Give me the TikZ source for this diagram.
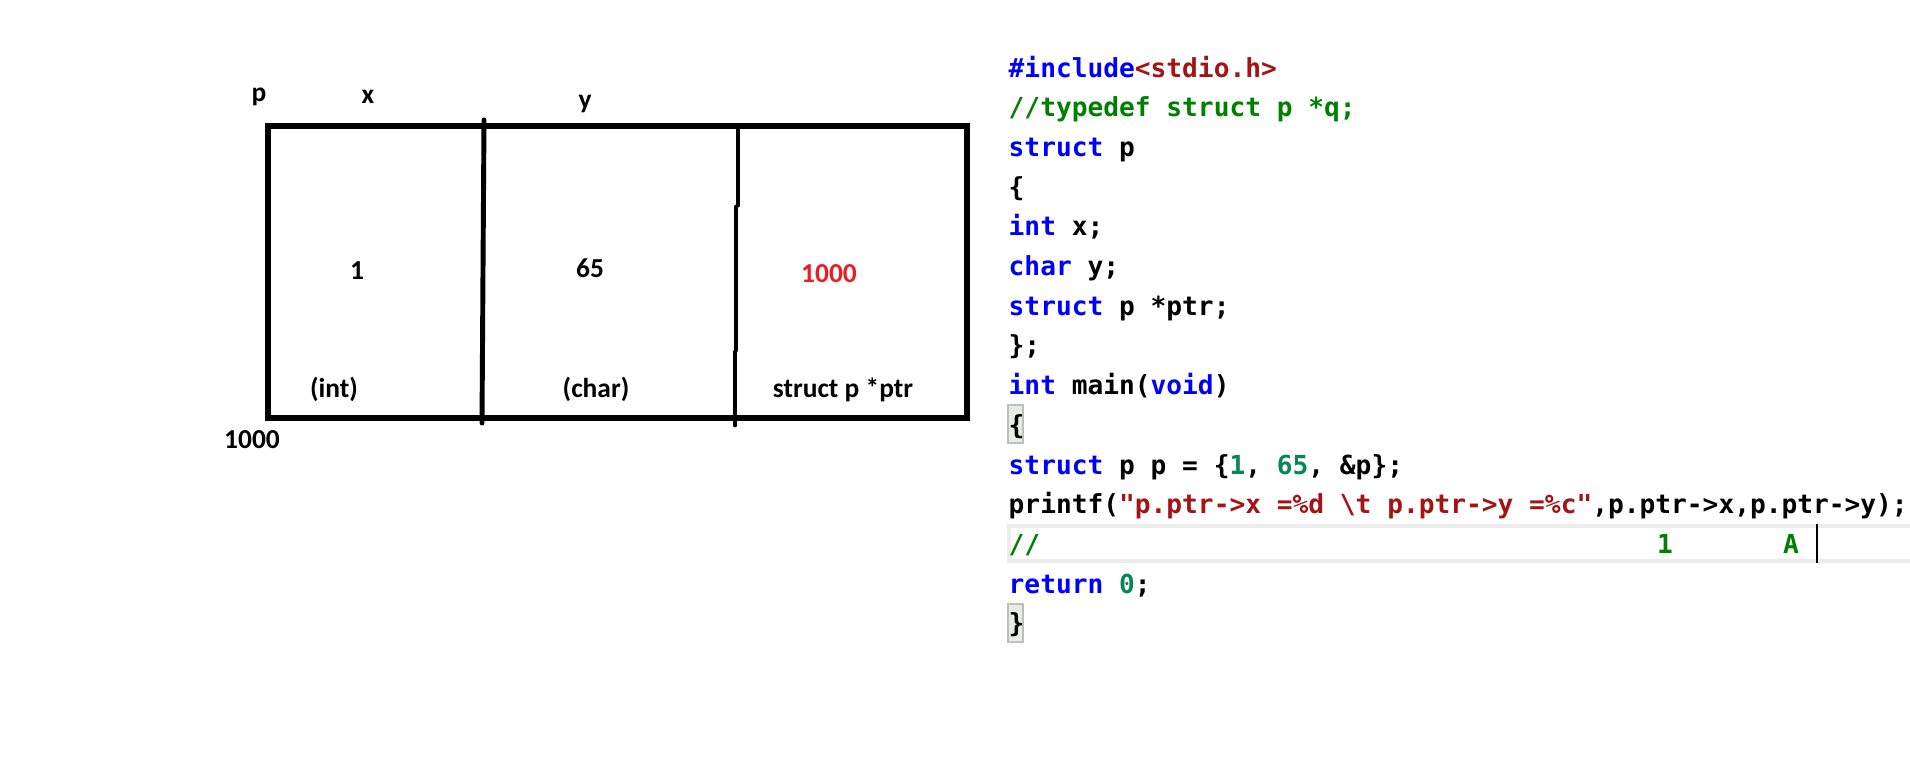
\documentclass[tikz,border=0pt]{standalone}
\usepackage{fontspec}
\setmainfont{Carlito}
\setmonofont{DejaVu Sans Mono}
\definecolor{ckw}{RGB}{0,0,255}
\definecolor{cstr}{RGB}{163,21,21}
\definecolor{ccom}{RGB}{0,128,0}
\definecolor{cnum}{RGB}{9,134,88}
\definecolor{cred}{RGB}{237,28,36}
\definecolor{bandgray}{RGB}{236,236,236}
\definecolor{bracefill}{RGB}{230,238,226}
\definecolor{braceline}{RGB}{190,190,190}
\newcommand{\kw}[1]{\textcolor{ckw}{#1}}
\newcommand{\cs}[1]{\textcolor{cstr}{#1}}
\newcommand{\cm}[1]{\textcolor{ccom}{#1}}
\newcommand{\cn}[1]{\textcolor{cnum}{#1}}
\tikzset{
  lbl/.style={font=\fontsize{7.8}{9}\selectfont\bfseries, inner sep=0pt, anchor=base},
  codeline/.style={font=\fontsize{7.45}{9}\selectfont\ttfamily\bfseries, inner sep=0pt, anchor=base west},
  cell/.style={line width=1.7pt},
  divider/.style={line width=1.4pt, line cap=round},
  band/.style={draw=bandgray, fill=white, line width=1.14pt},
  bracebox/.style={draw=braceline, fill=bracefill, line width=0.6pt}
}
\begin{document}
\begin{tikzpicture}[x=0.01cm,y=-0.01cm]
\useasboundingbox[fill=white] (0,0) rectangle (1910,772);
% memory box
\draw[cell] (268,126) rectangle (967,418);
\draw[divider] (484,120) -- (483,270) -- (482,423);
\draw[divider] (738,129) -- (738,205);
\draw[divider] (736,207) -- (736,350);
\draw[divider] (735,352) -- (735,425);
% labels
\node[lbl] (lp) at (259,101) {p};
\node[lbl] (lx) at (368,103) {x};
\node[lbl] (ly) at (585,108) {y};
\node[lbl] (v1) at (357,279) {1};
\node[lbl] (v65) at (590,277) {65};
\node[lbl, text=cred] (vptr) at (829,282) {1000};
\node[lbl] (tint) at (334,397) {(int)};
\node[lbl] (tchar) at (596,397) {(char)};
\node[lbl] (tptr) at (843,397) {struct p *ptr};
\node[lbl] (addr) at (252,448) {1000};
% code highlights
\draw[band] (1009,526) rectangle (1915,561);
\draw[bracebox] (1008,405) rectangle (1023,443);
\draw[bracebox] (1008,604) rectangle (1023,642);
% code
\node[codeline] (l1) at (1008,77) {\kw{\#include}\cs{<stdio.h>}};
\node[codeline] (l2) at (1008,116.7) {\cm{//typedef struct p *q;}};
\node[codeline] (l3) at (1008,156.4) {\kw{struct} p};
\node[codeline] (l4) at (1008,196.1) {\{};
\node[codeline] (l5) at (1008,235.8) {\kw{int} x;};
\node[codeline] (l6) at (1008,275.5) {\kw{char} y;};
\node[codeline] (l7) at (1008,315.2) {\kw{struct} p *ptr;};
\node[codeline] (l8) at (1008,354.9) {\};};
\node[codeline] (l9) at (1008,394.6) {\kw{int} main(\kw{void})};
\node[codeline] (l10) at (1008,434.3) {\{};
\node[codeline] (l11) at (1008,474) {\kw{struct} p p = \{\cn{1}, \cn{65}, \&p\};};
\node[codeline] (l12) at (1008,513.7) {printf(\cs{"p.ptr->x =\%d \textbackslash t p.ptr->y =\%c"},p.ptr->x,p.ptr->y);};
\node[codeline] (l13) at (1008,553.4) {\cm{//}};
\node[codeline, anchor=base] (c1) at (1665,553.4) {\cm{1}};
\node[codeline, anchor=base] (cA) at (1791,553.4) {\cm{A}};
\node[codeline] (l14) at (1008,593.1) {\kw{return} \cn{0};};
\node[codeline] (l15) at (1008,632.8) {\}};
\coordinate (curtop) at (1817,524);
\coordinate (curbot) at (1817,563);
\draw[line width=0.8pt] (curtop) -- (curbot);
\end{tikzpicture}
\end{document}
